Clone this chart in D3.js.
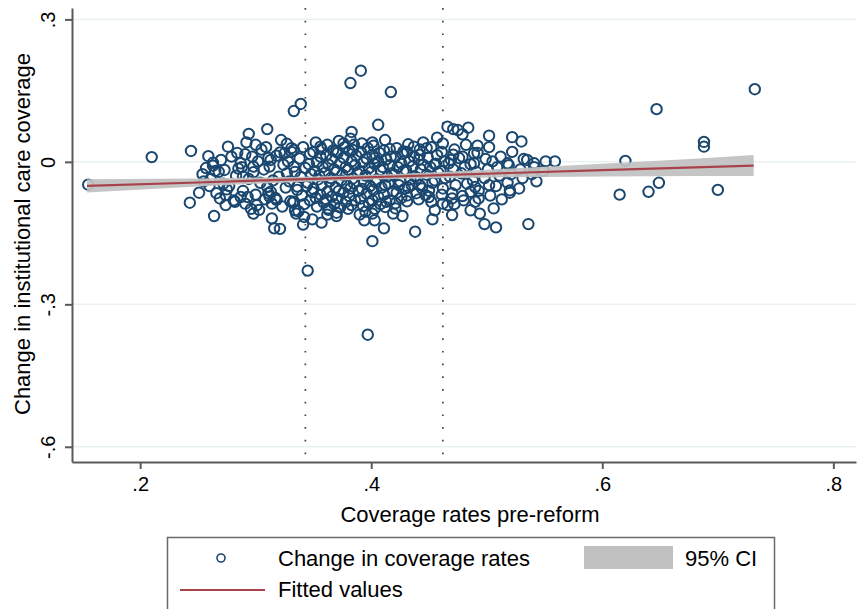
<!DOCTYPE html>
<html><head><meta charset="utf-8">
<script src="https://cdn.jsdelivr.net/npm/d3@7"></script>
<style>
body{margin:0;background:#fff}
svg{display:block}
text{font-family:"Liberation Sans",Arial,Helvetica,sans-serif;fill:#000}
</style>
</head><body>
<svg id="chart" width="857" height="609"></svg>
<script>
// ---------- data ----------
const xTicks = [0.2, 0.4, 0.6, 0.8];
const xTickLabels = [".2", ".4", ".6", ".8"];
const yTicks = [0.3, 0, -0.3, -0.6];
const yTickLabels = [".3", "0", "-.3", "-.6"];
const refLines = [0.343, 0.462];
const xTitle = "Coverage rates pre-reform";
const yTitle = "Change in institutional care coverage";
const legendLabels = ["Change in coverage rates", "95% CI", "Fitted values"];

const fitX    = [0.154, 0.25, 0.30, 0.35, 0.38, 0.42, 0.46, 0.52, 0.60, 0.68, 0.731];
const fitY    = [-0.0505, -0.0434, -0.0397, -0.0360, -0.0338, -0.0308, -0.0279, -0.0234, -0.0175, -0.0116, -0.0078];
const ciLow   = [-0.0645, -0.0520, -0.0463, -0.0412, -0.0388, -0.0362, -0.0343, -0.0326, -0.0310, -0.0296, -0.0298];
const ciHigh  = [-0.0365, -0.0348, -0.0331, -0.0308, -0.0288, -0.0254, -0.0215, -0.0142, -0.0040, 0.0064, 0.0142];

const sparsePoints = [
[0.155,-0.048],[0.210,0.010],[0.244,0.023],[0.243,-0.086],[0.251,-0.065],[0.263,-0.008],[0.276,0.032],
[0.294,0.059],[0.310,0.069],[0.300,0.036],[0.284,0.019],[0.263,-0.002],[0.257,-0.013],[0.264,-0.114],
[0.269,-0.077],[0.274,-0.091],[0.274,-0.070],[0.281,-0.081],[0.287,-0.074],[0.291,-0.088],[0.293,-0.074],
[0.298,-0.109],[0.301,-0.091],[0.316,-0.140],[0.313,-0.063],[0.314,-0.088],[0.310,-0.053],[0.341,-0.132],
[0.342,-0.116],[0.334,-0.102],[0.330,-0.083],[0.357,-0.128],[0.362,-0.111],[0.370,-0.114],[0.363,-0.098],
[0.394,-0.123],[0.395,-0.105],[0.403,-0.123],[0.401,-0.109],[0.411,-0.140],[0.412,-0.095],[0.419,-0.109],
[0.421,-0.098],[0.427,-0.114],[0.431,-0.083],[0.438,-0.147],[0.401,-0.167],[0.453,-0.121],[0.455,-0.102],
[0.470,-0.112],[0.462,-0.088],[0.466,-0.091],[0.470,-0.077],[0.479,-0.072],[0.486,-0.102],[0.494,-0.109],
[0.498,-0.131],[0.508,-0.138],[0.506,-0.098],[0.493,-0.077],[0.486,-0.063],[0.490,-0.053],[0.502,-0.049],
[0.520,-0.060],[0.520,-0.065],[0.536,-0.131],[0.543,-0.041],[0.447,-0.070],[0.450,-0.074],[0.442,-0.049],
[0.466,0.074],[0.471,0.069],[0.475,0.067],[0.479,0.058],[0.484,0.072],[0.457,0.051],[0.502,0.055],
[0.522,0.052],[0.530,0.043],[0.492,0.034],[0.489,0.018],[0.445,0.041],[0.448,0.029],[0.471,0.015],
[0.476,0.008],[0.486,-0.005],[0.505,0.001],[0.518,-0.003],[0.535,0.004],[0.541,-0.003],[0.559,0.001],
[0.442,0.015],[0.467,-0.003],[0.445,-0.006],[0.455,-0.005],[0.376,0.039],[0.385,0.036],[0.384,0.025],
[0.401,0.041],[0.356,0.032],[0.331,0.029],[0.321,0.020],[0.416,0.027],[0.428,0.022],[0.437,0.032],
[0.370,0.022],[0.403,0.008],[0.406,0.078],[0.383,0.063],[0.417,0.147],[0.391,0.192],[0.382,0.166],
[0.333,0.107],[0.339,0.122],[0.345,-0.229],[0.397,-0.364],[0.732,0.153],[0.647,0.111],[0.688,0.042],
[0.688,0.032],[0.620,0.002],[0.615,-0.069],[0.640,-0.063],[0.649,-0.044],[0.700,-0.059],[0.321,-0.141],
[0.273,-0.017],[0.287,-0.003],[0.297,0.011],[0.298,-0.010],[0.289,-0.031],[0.311,0.008],[0.312,-0.010],
[0.312,-0.073],[0.318,-0.080],[0.327,-0.024],[0.333,0.025],[0.325,0.018],[0.333,-0.010],[0.336,-0.052],
[0.333,-0.084]
];

const densePoints = [
[0.268,-0.021],[0.272,-0.046],[0.270,0.004],[0.275,-0.058],
[0.279,0.011],[0.283,-0.029],[0.277,-0.051],[0.282,-0.084],[0.285,-0.014],
[0.291,0.016],[0.288,-0.011],[0.294,-0.036],[0.289,-0.061],[0.296,-0.099],[0.292,0.041],
[0.302,0.001],[0.298,-0.022],[0.304,-0.044],[0.300,-0.069],[0.305,0.026],[0.303,-0.101],
[0.309,0.031],[0.313,0.004],[0.307,-0.016],[0.315,-0.039],[0.311,-0.066],[0.308,-0.079],[0.314,-0.119],
[0.322,0.046],[0.318,0.013],[0.324,-0.006],[0.320,-0.031],[0.326,-0.054],[0.317,-0.076],[0.323,-0.094],
[0.331,0.021],[0.328,0.001],[0.334,-0.021],[0.329,-0.041],[0.336,-0.059],[0.332,-0.086],[0.327,0.038],[0.335,-0.109],
[0.341,0.031],[0.338,0.007],[0.343,-0.013],[0.339,-0.032],[0.344,-0.051],[0.340,-0.071],[0.342,-0.089],[0.337,-0.104],
[0.347,0.017],[0.346,-0.005],[0.348,-0.026],[0.345,-0.044],[0.349,-0.064],[0.347,-0.081],
[0.352,0.041],[0.350,0.021],[0.353,-0.001],[0.351,-0.019],[0.354,-0.037],[0.350,-0.057],[0.352,-0.076],[0.353,-0.094],[0.349,-0.121],
[0.357,0.027],[0.356,0.011],[0.358,-0.011],[0.355,-0.029],[0.357,-0.049],[0.356,-0.069],[0.359,-0.086],
[0.362,0.036],[0.361,0.014],[0.363,-0.006],[0.360,-0.023],[0.364,-0.041],[0.362,-0.063],[0.361,-0.079],[0.363,-0.101],
[0.367,0.024],[0.366,0.006],[0.368,-0.016],[0.365,-0.034],[0.369,-0.054],[0.366,-0.073],[0.368,-0.089],
[0.372,0.044],[0.371,0.019],[0.373,-0.003],[0.370,-0.021],[0.374,-0.039],[0.372,-0.061],[0.371,-0.077],[0.373,-0.096],[0.370,-0.107],
[0.377,0.031],[0.376,0.009],[0.378,-0.011],[0.375,-0.027],[0.379,-0.049],[0.376,-0.065],[0.378,-0.084],
[0.382,0.049],[0.381,0.023],[0.383,0.001],[0.380,-0.017],[0.384,-0.035],[0.382,-0.056],[0.381,-0.072],[0.383,-0.091],[0.380,-0.099],
[0.387,0.013],[0.386,-0.007],[0.388,-0.024],[0.385,-0.045],[0.389,-0.061],[0.386,-0.081],
[0.392,0.039],[0.391,0.021],[0.393,-0.001],[0.390,-0.019],[0.394,-0.041],[0.392,-0.057],[0.391,-0.077],[0.393,-0.093],[0.390,-0.111],
[0.397,0.029],[0.396,0.007],[0.398,-0.013],[0.395,-0.029],[0.399,-0.051],[0.396,-0.067],[0.398,-0.087],
[0.402,0.034],[0.401,0.015],[0.403,-0.005],[0.400,-0.021],[0.404,-0.043],[0.402,-0.059],[0.401,-0.081],[0.403,-0.099],
[0.407,0.019],[0.406,0.001],[0.408,-0.017],[0.405,-0.037],[0.409,-0.054],[0.406,-0.073],[0.408,-0.089],
[0.412,0.046],[0.411,0.024],[0.413,0.005],[0.410,-0.011],[0.414,-0.031],[0.412,-0.049],[0.411,-0.069],[0.413,-0.084],
[0.417,0.011],[0.416,-0.007],[0.418,-0.024],[0.415,-0.046],[0.419,-0.062],[0.416,-0.081],
[0.422,0.029],[0.421,0.011],[0.423,-0.011],[0.420,-0.027],[0.424,-0.049],[0.422,-0.065],[0.421,-0.087],
[0.427,0.017],[0.426,-0.003],[0.428,-0.019],[0.425,-0.041],[0.429,-0.057],[0.426,-0.076],
[0.432,0.037],[0.431,0.021],[0.433,0.001],[0.430,-0.017],[0.434,-0.037],[0.432,-0.054],[0.431,-0.071],
[0.437,0.011],[0.436,-0.009],[0.438,-0.031],[0.435,-0.049],[0.439,-0.066],
[0.442,0.026],[0.441,0.004],[0.443,-0.016],[0.440,-0.034],[0.444,-0.056],[0.441,-0.079],
[0.452,0.031],[0.449,0.009],[0.451,-0.011],[0.448,-0.027],[0.453,-0.044],[0.450,-0.061],[0.452,-0.084],
[0.457,0.014],[0.456,-0.004],[0.458,-0.023],[0.455,-0.039],
[0.462,0.039],[0.461,0.021],[0.463,0.001],[0.460,-0.019],[0.464,-0.034],[0.462,-0.056],[0.461,-0.069],
[0.472,0.026],[0.469,0.004],[0.471,-0.016],[0.468,-0.031],[0.473,-0.049],[0.470,-0.066],[0.472,-0.089],
[0.482,0.036],[0.479,0.011],[0.481,-0.011],[0.478,-0.024],[0.483,-0.046],[0.480,-0.081],
[0.492,0.019],[0.489,-0.003],[0.491,-0.021],[0.488,-0.039],[0.493,-0.061],[0.490,-0.084],
[0.502,0.031],[0.499,0.006],[0.501,-0.016],[0.498,-0.034],[0.503,-0.071],
[0.512,0.011],[0.509,-0.011],[0.511,-0.029],[0.508,-0.051],[0.513,-0.079],
[0.522,0.021],[0.519,-0.007],[0.521,-0.026],[0.518,-0.044],
[0.532,0.006],[0.529,-0.016],[0.531,-0.034],[0.528,-0.056],
[0.541,-0.011],[0.539,-0.026],[0.551,0.001],[0.549,-0.019],
[0.255,-0.041],[0.254,-0.026],[0.260,-0.051],[0.259,0.012],[0.261,-0.036],[0.266,-0.066],[0.265,-0.019]
];

// ---------- drawing ----------
const svg = d3.select("#chart");
const x = d3.scaleLinear().domain([0.141, 0.8196]).range([72, 856]);
const y = d3.scaleLinear().domain([-0.632, 0.324]).range([462, 8]);
const axisColor = "#5a5a5a";
const navy = "#1a476f";

// grid lines
svg.append("g").selectAll("line").data(yTicks).join("line")
  .attr("x1", x.range()[0]).attr("x2", x.range()[1])
  .attr("y1", d => y(d)).attr("y2", d => y(d))
  .attr("stroke", "#eaf1f2").attr("stroke-width", 1.5);

// reference lines (dotted)
svg.append("g").selectAll("line").data(refLines).join("line")
  .attr("x1", d => x(d)).attr("x2", d => x(d))
  .attr("y1", y.range()[1]).attr("y2", y.range()[0])
  .attr("stroke", "#444").attr("stroke-width", 1.7)
  .attr("stroke-dasharray", "1.7,11");

// scatter
const allPoints = sparsePoints.concat(densePoints);
svg.append("g").selectAll("circle").data(allPoints).join("circle")
  .attr("cx", d => x(d[0])).attr("cy", d => y(d[1])).attr("r", 5.2)
  .attr("fill", "none").attr("stroke", navy).attr("stroke-width", 2);

// CI band
const fitData = fitX.map((v, i) => ({x: v, y: fitY[i], lo: ciLow[i], hi: ciHigh[i]}));
svg.append("path").datum(fitData)
  .attr("d", d3.area().x(d => x(d.x)).y0(d => y(d.lo)).y1(d => y(d.hi)))
  .attr("fill", "#c0c0c0").attr("fill-opacity", 0.92);
svg.append("path").datum(fitData)
  .attr("d", d3.line().x(d => x(d.x)).y(d => y(d.y)))
  .attr("fill", "none").attr("stroke", "#a8424a").attr("stroke-width", 2.2);

// axes
const xAxis = svg.append("g").attr("transform", `translate(0,${y.range()[0]})`)
  .call(d3.axisBottom(x).tickValues(xTicks).tickFormat((d, i) => xTickLabels[i]).tickSizeInner(7).tickSizeOuter(0).tickPadding(6));
const yAxis = svg.append("g").attr("transform", `translate(${x.range()[0]},0)`)
  .call(d3.axisLeft(y).tickValues(yTicks).tickFormat((d, i) => yTickLabels[i]).tickSizeInner(7).tickSizeOuter(0));
[xAxis, yAxis].forEach(a => {
  a.select(".domain").attr("stroke", axisColor).attr("stroke-width", 2);
  a.selectAll(".tick line").attr("stroke", axisColor).attr("stroke-width", 2);
  a.selectAll("text").attr("font-size", 20).attr("fill", "#000")
    .attr("font-family", '"Liberation Sans",Arial,sans-serif');
});
xAxis.selectAll(".tick text").attr("dy", null).attr("y", 29);
yAxis.selectAll(".tick text")
  .attr("x", null).attr("dy", null).attr("text-anchor", "middle")
  .attr("transform", "translate(-17,0) rotate(-90)").attr("y", 0);

// axis titles
svg.append("text").attr("x", 470).attr("y", 522).attr("text-anchor", "middle")
  .attr("font-size", 22).text(xTitle);
svg.append("text").attr("transform", "translate(30,234) rotate(-90)")
  .attr("text-anchor", "middle").attr("font-size", 22).text(yTitle);

// legend
const lg = svg.append("g");
lg.append("rect").attr("x", 167.5).attr("y", 537.5).attr("width", 607).attr("height", 90)
  .attr("fill", "#fff").attr("stroke", "#6a6a6a").attr("stroke-width", 1.5);
lg.append("circle").attr("cx", 221).attr("cy", 558).attr("r", 4)
  .attr("fill", "none").attr("stroke", navy).attr("stroke-width", 1.6);
lg.append("text").attr("x", 278).attr("y", 566).attr("font-size", 22).text(legendLabels[0]);
lg.append("rect").attr("x", 584).attr("y", 546).attr("width", 89).attr("height", 23).attr("fill", "#c0c0c0");
lg.append("text").attr("x", 685).attr("y", 566).attr("font-size", 22).text(legendLabels[1]);
lg.append("line").attr("x1", 180).attr("x2", 265).attr("y1", 590).attr("y2", 590)
  .attr("stroke", "#a8424a").attr("stroke-width", 2);
lg.append("text").attr("x", 278).attr("y", 597).attr("font-size", 22).text(legendLabels[2]);
</script>
</body></html>
